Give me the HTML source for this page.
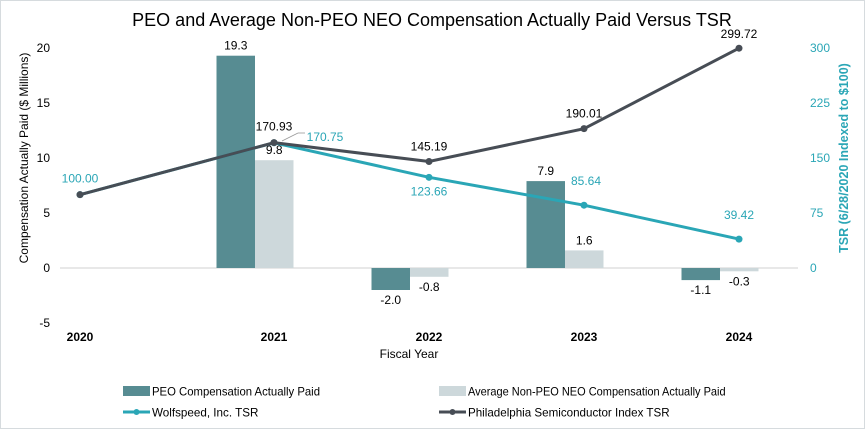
<!DOCTYPE html>
<html><head><meta charset="utf-8"><style>
body{margin:0;background:#fff}
svg{display:block;font-family:"Liberation Sans",sans-serif}
</style></head><body>
<svg id="c" width="865" height="429">
<rect x="0.5" y="0.5" width="864" height="428" fill="#fff" stroke="#d6dbde"/>
<text x="432" y="26" text-anchor="middle" font-size="18" fill="#000">PEO and Average Non-PEO NEO Compensation Actually Paid Versus TSR</text>
<text transform="translate(28,158) rotate(-90)" text-anchor="middle" font-size="12" fill="#000">Compensation  Actually Paid ($ Millions)</text>
<text transform="translate(848,158) rotate(-90)" text-anchor="middle" font-size="12.5" font-weight="bold" fill="#2aa6b6">TSR (6/28/2020  Indexed to $100)</text>
<text x="409" y="358" text-anchor="middle" font-size="12" fill="#000">Fiscal Year</text>
<g id="g"></g>
</svg>
<script>
const years=["2020","2021","2022","2023","2024"];
const peo=[null,19.3,-2.0,7.9,-1.1];
const neo=[null,9.8,-0.8,1.6,-0.3];
const wolf=[100.00,170.75,123.66,85.64,39.42];
const sox=[100.00,170.93,145.19,190.01,299.72];
const leftTicks=[20,15,10,5,0,-5];
const rightTicks=[300,225,150,75,0];
const NS="http://www.w3.org/2000/svg";
const g=document.getElementById('g');
function yL(v){return 268-v*11;}
function yR(v){return 268-v*(220/300);}
function xC(i){return i===0?80:274+(i-1)*155;}
function mk(t,a,txt){const e=document.createElementNS(NS,t);for(const k in a)e.setAttribute(k,a[k]);if(txt!==undefined)e.textContent=txt;g.appendChild(e);return e;}
leftTicks.forEach(v=>{const e=mk('text',{x:50,y:yL(v)+4,'text-anchor':'end','font-size':12,fill:'#000'},String(v));

});
rightTicks.forEach(v=>{const e=mk('text',{x:810,y:yR(v)+4,'text-anchor':'start','font-size':12,fill:'#2aa6b6'},String(v));

});
const zl=mk('line',{x1:60,x2:798,y1:yL(0),y2:yL(0),stroke:'#d0d0d0','stroke-width':1});


years.forEach((y,i)=>{const e=mk('text',{x:xC(i),y:341,'text-anchor':'middle','font-size':12,'font-weight':'bold',fill:'#000'},y);

});
const bw=38.5;
function bars(arr,off,col,name){arr.forEach((v,i)=>{if(v===null)return;const cx=xC(i)-19;
const y0=yL(0),y1=yL(v);
const r=mk('rect',{x:off===0?cx-bw:cx,y:Math.min(y0,y1),width:bw,height:Math.abs(y1-y0),fill:col});


const ly=v>=0?y1-6:y0+(Math.abs(y1-y0))+14;
const t=mk('text',{x:(off===0?cx-bw/2:cx+bw/2),y:ly,'text-anchor':'middle','font-size':12,fill:'#000'},v.toFixed(1));

});}
bars(peo,0,'#578c92','peo-bar');
bars(neo,1,'#cdd8db','neo-bar');
function line(arr,col,name,lblOff,lblCol){const pts=arr.map((v,i)=>xC(i)+','+yR(v)).join(' ');
const p=mk('polyline',{points:pts,fill:'none',stroke:col,'stroke-width':3});


arr.forEach((v,i)=>{const c=mk('circle',{cx:xC(i),cy:yR(v),r:3.5,fill:col});


const o=lblOff[i];if(o===null)return;const t=mk('text',{x:xC(i)+o[0],y:yR(v)+o[1],'text-anchor':'middle','font-size':12,fill:lblCol},v.toFixed(2));

});}
line(wolf,'#2aa6b6','wolfspeed-tsr',[[0,-12],[51,-2],[0,18],[2,-20],[0,-20]],'#2aa6b6');
line(sox,'#474d55','sox-tsr',[null,[0,-12],[0,-11],[0,-11],[0,-10]],'#000');
const ll=mk('line',{x1:282,y1:141,x2:298,y2:133,stroke:'#999','stroke-width':0.8});


const ll2=mk('line',{x1:298,y1:133,x2:305,y2:133,stroke:'#999','stroke-width':0.8});


const L=[[123,391,'rect','#578c92','PEO Compensation Actually Paid','legend-peo'],[439,391,'rect','#cdd8db','Average Non-PEO NEO Compensation Actually Paid','legend-neo'],[123,412,'line','#2aa6b6','Wolfspeed, Inc. TSR','legend-wolfspeed'],[439,412,'line','#474d55','Philadelphia Semiconductor Index TSR','legend-sox']];
L.forEach(d=>{if(d[2]==='rect'){const r=mk('rect',{x:d[0],y:d[1]-5,width:27,height:10,fill:d[3]});

}else{const l=mk('line',{x1:d[0],x2:d[0]+27,y1:d[1],y2:d[1],stroke:d[3],'stroke-width':3});


const c=mk('circle',{cx:d[0]+13.5,cy:d[1],r:3,fill:d[3]});

}
const t=mk('text',{x:d[0]+29,y:d[1]+4.5,'font-size':12,fill:'#000',textLength:d[4].length*5.6,lengthAdjust:'spacingAndGlyphs'},d[4]);

});
</script>
</body></html>
